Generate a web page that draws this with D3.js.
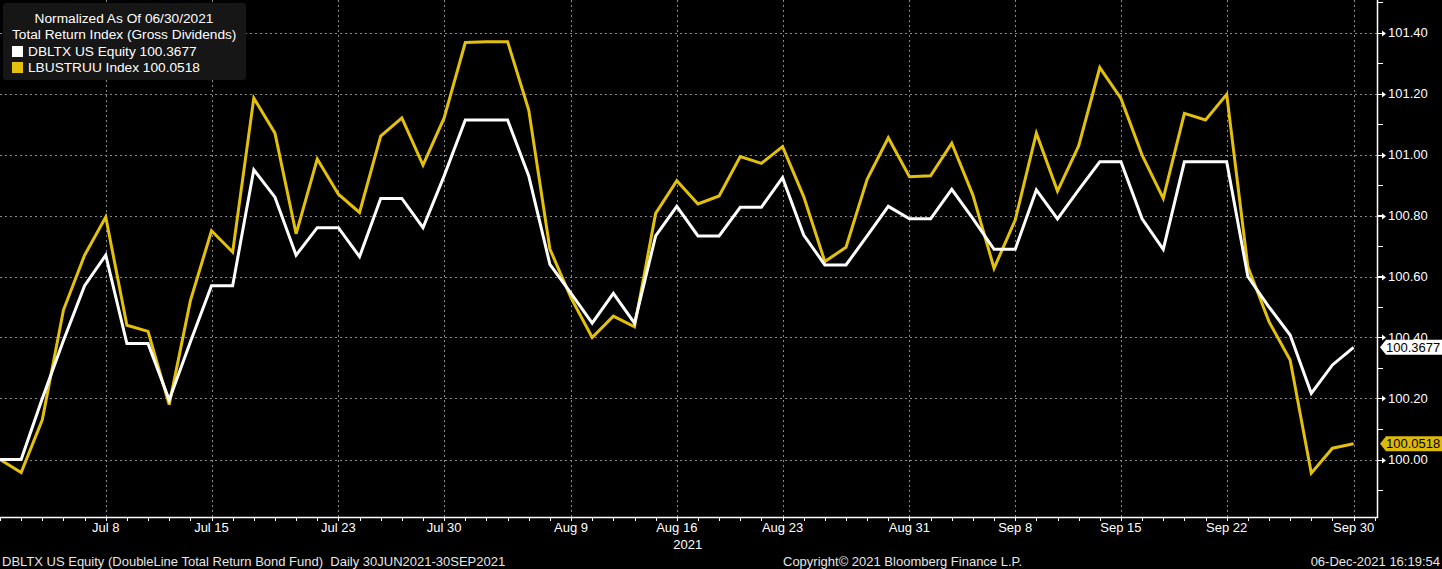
<!DOCTYPE html>
<html><head><meta charset="utf-8">
<script src="https://cdn.jsdelivr.net/npm/d3@7"></script>
<style>
html,body{margin:0;padding:0;background:#000;}
svg{display:block;}
text{font-family:"Liberation Sans",Arial,sans-serif;}
</style></head>
<body>
<svg id="c" width="1442" height="569"></svg>
<script>
const dates = ["Jun 30","Jul 1","Jul 2","Jul 6","Jul 7","Jul 8","Jul 9","Jul 12","Jul 13","Jul 14","Jul 15","Jul 16",
"Jul 19","Jul 20","Jul 21","Jul 22","Jul 23","Jul 26","Jul 27","Jul 28","Jul 29","Jul 30",
"Aug 2","Aug 3","Aug 4","Aug 5","Aug 6","Aug 9","Aug 10","Aug 11","Aug 12","Aug 13","Aug 16","Aug 17","Aug 18","Aug 19","Aug 20",
"Aug 23","Aug 24","Aug 25","Aug 26","Aug 27","Aug 30","Aug 31",
"Sep 1","Sep 2","Sep 3","Sep 7","Sep 8","Sep 9","Sep 10","Sep 13","Sep 14","Sep 15","Sep 16","Sep 17",
"Sep 20","Sep 21","Sep 22","Sep 23","Sep 24","Sep 27","Sep 28","Sep 29","Sep 30"];

const dbltx = [100.00,100.00,100.20,100.39,100.57,100.67,100.38,100.38,100.195,100.385,100.57,100.57,
100.95,100.86,100.67,100.76,100.76,100.665,100.856,100.856,100.76,100.93,
101.113,101.113,101.113,100.93,100.64,100.545,100.447,100.545,100.447,100.733,100.83,100.733,100.733,100.827,100.827,
100.924,100.736,100.638,100.638,100.733,100.83,100.789,
100.789,100.886,100.79,100.689,100.689,100.884,100.789,100.884,100.976,100.976,100.789,100.689,
100.976,100.976,100.976,100.60,100.50,100.408,100.217,100.31,100.3677];

const lbustruu = [100.00,99.957,100.13,100.49,100.67,100.795,100.44,100.42,100.18,100.52,100.75,100.68,
101.185,101.07,100.74,100.985,100.87,100.81,101.06,101.12,100.965,101.12,
101.367,101.37,101.37,101.146,100.69,100.53,100.40,100.47,100.435,100.807,100.914,100.838,100.864,100.993,100.971,
101.026,100.862,100.649,100.696,100.919,101.055,100.927,
100.93,101.037,100.867,100.627,100.785,101.07,100.88,101.028,101.285,101.184,100.998,100.856,
101.135,101.113,101.197,100.632,100.452,100.326,99.955,100.037,100.0518];

const xTickLabels = ["Jul 8","Jul 15","Jul 23","Jul 30","Aug 9","Aug 16","Aug 23","Aug 31","Sep 8","Sep 15","Sep 22","Sep 30"];
const yTicks = [100.00,100.20,100.40,100.60,100.80,101.00,101.20,101.40];
const seriesNames = ["DBLTX US Equity","LBUSTRUU Index"];
const lastLabels = ["100.3677","100.0518"];

const WHITE = "#ffffff", YELLOW = "#e3c00b", TAGYELLOW = "#dcba0a";
const svg = d3.select("#c");
const axisX = 1378, axisY = 517;

const x = d3.scaleLinear().domain([0, 64]).range([0, 1353.6]);
const y = d3.scaleLinear().domain([100, 101.4]).range([459.5, 32.5]);

// grid
const g = svg.append("g");
const majorIdx = xTickLabels.map(l => dates.indexOf(l));
g.selectAll("line.vg").data(majorIdx).join("line")
  .attr("x1", d => Math.round(x(d)) + 0.5).attr("x2", d => Math.round(x(d)) + 0.5)
  .attr("y1", 0).attr("y2", axisY)
  .attr("stroke", "#8a8a8a").attr("stroke-width", 1).attr("stroke-dasharray", "2,3");
g.selectAll("line.hg").data(yTicks).join("line")
  .attr("x1", 0).attr("x2", axisX)
  .attr("y1", d => Math.round(y(d)) + 0.5).attr("y2", d => Math.round(y(d)) + 0.5)
  .attr("stroke", "#8a8a8a").attr("stroke-width", 1).attr("stroke-dasharray", "2,3");

// lines
const line = d3.line().x((d, i) => x(i)).y(d => y(d));
svg.append("path").datum(lbustruu).attr("d", line)
  .attr("fill", "none").attr("stroke", YELLOW).attr("stroke-width", 3).attr("stroke-linejoin", "miter");
svg.append("path").datum(dbltx).attr("d", line)
  .attr("fill", "none").attr("stroke", WHITE).attr("stroke-width", 3).attr("stroke-linejoin", "miter");

// bottom axis
const ax = svg.append("g");
ax.append("line").attr("x1", 0).attr("x2", axisX).attr("y1", axisY + 0.5).attr("y2", axisY + 0.5)
  .attr("stroke", "#fff").attr("stroke-width", 1.5);
ax.selectAll("line.mt").data(d3.range(dates.length + 1)).join("line")
  .attr("x1", d => Math.round(x(d)) + 0.5).attr("x2", d => Math.round(x(d)) + 0.5)
  .attr("y1", axisY).attr("y2", axisY + 4).attr("stroke", "#fff").attr("stroke-width", 1);
ax.selectAll("text.xl").data(majorIdx).join("text")
  .attr("x", d => x(d)).attr("y", 532).attr("text-anchor", "middle")
  .attr("fill", "#fff").attr("font-size", 13).text((d, i) => xTickLabels[i]);
ax.append("text").attr("x", x(dates.indexOf("Aug 16")) + 11).attr("y", 549).attr("text-anchor", "middle")
  .attr("fill", "#fff").attr("font-size", 13).text("2021");

// right axis
const ay = svg.append("g");
ay.append("line").attr("x1", axisX - 0.5).attr("x2", axisX - 0.5).attr("y1", 0).attr("y2", axisY + 1)
  .attr("stroke", "#fff").attr("stroke-width", 1.5);
const minor = d3.range(99.9, 101.55, 0.1);
ay.selectAll("line.ym").data(minor).join("line")
  .attr("x1", axisX).attr("x2", axisX + 5)
  .attr("y1", d => Math.round(y(d)) + 0.5).attr("y2", d => Math.round(y(d)) + 0.5)
  .attr("stroke", "#fff").attr("stroke-width", 1);
ay.selectAll("path.ya").data(yTicks).join("path")
  .attr("d", d => { const yy = Math.round(y(d)) + 0.5; return `M${axisX},${yy - 0.5}L${axisX + 4},${yy - 0.5}L${axisX + 4},${yy - 3}L${axisX + 8},${yy}L${axisX + 4},${yy + 3}L${axisX + 4},${yy + 0.5}L${axisX},${yy + 0.5}Z`; })
  .attr("fill", "#fff");
ay.selectAll("text.yl").data(yTicks).join("text")
  .attr("x", axisX + 10).attr("y", d => y(d) + 4.5)
  .attr("fill", "#fff").attr("font-size", 13).text(d => d.toFixed(2));

// last value tags
const tags = [{v: dbltx[dbltx.length - 1], c: WHITE, t: lastLabels[0]}, {v: lbustruu[lbustruu.length - 1], c: TAGYELLOW, t: lastLabels[1]}];
tags.forEach(tg => {
  const yy = y(tg.v);
  svg.append("path").attr("d", `M${axisX + 2},${yy}L${axisX + 8},${yy - 7.5}L1442,${yy - 7.5}L1442,${yy + 7.5}L${axisX + 8},${yy + 7.5}Z`)
    .attr("fill", tg.c);
  svg.append("text").attr("x", axisX + 8).attr("y", yy + 4.5).attr("fill", "#000").attr("font-size", 13).text(tg.t);
});

// legend
const lg = svg.append("g");
lg.append("rect").attr("x", 3).attr("y", 3).attr("width", 243).attr("height", 77).attr("rx", 3)
  .attr("fill", "#161616");
lg.append("text").attr("x", 124).attr("y", 23).attr("text-anchor", "middle").attr("fill", "#fff").attr("font-size", 13.7)
  .text("Normalized As Of 06/30/2021");
lg.append("text").attr("x", 12).attr("y", 39).attr("fill", "#fff").attr("font-size", 13.7)
  .text("Total Return Index (Gross Dividends)");
[[WHITE, seriesNames[0] + " " + lastLabels[0]], [YELLOW, seriesNames[1] + " " + lastLabels[1]]].forEach((r, i) => {
  lg.append("rect").attr("x", 12).attr("y", 46 + i * 16).attr("width", 11).attr("height", 11).attr("fill", r[0]);
  lg.append("text").attr("x", 28).attr("y", 56 + i * 16).attr("fill", "#fff").attr("font-size", 13.7).text(r[1]);
});

// footer
const ft = svg.append("g").attr("fill", "#e6e6e6").attr("font-size", 13);
ft.append("text").attr("x", 2).attr("y", 566).text("DBLTX US Equity (DoubleLine Total Return Bond Fund)  Daily 30JUN2021-30SEP2021").attr("xml:space", "preserve");
ft.append("text").attr("x", 783).attr("y", 566).text("Copyright\u00A9 2021 Bloomberg Finance L.P.");
ft.append("text").attr("x", 1440).attr("y", 566).attr("text-anchor", "end").text("06-Dec-2021 16:19:54");
</script>
</body></html>
